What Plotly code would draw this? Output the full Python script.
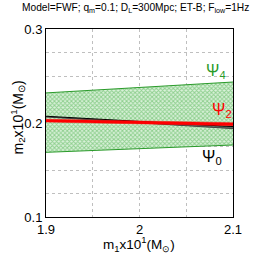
import plotly.graph_objects as go

x_vals = [1.9, 2.1]
psi4_upper = [0.232, 0.2436]
psi4_lower = [0.1688, 0.1766]
psi2_upper = [0.2040, 0.2003]
psi2_lower = [0.2010, 0.1972]
psi0_upper = [0.2072, 0.1962]
psi0_lower = [0.2064, 0.1940]

GREEN = "#2a9a2a"
fig = go.Figure()
# psi4 band
fig.add_trace(go.Scatter(x=x_vals, y=psi4_lower, mode="lines", line=dict(color=GREEN, width=1), showlegend=False))
fig.add_trace(go.Scatter(x=x_vals, y=psi4_upper, mode="lines", line=dict(color=GREEN, width=1), fill="tonexty",
                         fillcolor="#cdeccd",
                         fillpattern=dict(shape="x", size=3, solidity=0.55, fgcolor="#46ad46", bgcolor="#d9f1d9"),
                         showlegend=False))
# psi0 band
fig.add_trace(go.Scatter(x=x_vals, y=psi0_lower, mode="lines", line=dict(color="#444444", width=1), showlegend=False))
fig.add_trace(go.Scatter(x=x_vals, y=psi0_upper, mode="lines", line=dict(color="black", width=1), fill="tonexty",
                         fillcolor="rgba(60,60,60,0.7)", showlegend=False))
# psi2 band
fig.add_trace(go.Scatter(x=x_vals, y=psi2_lower, mode="lines", line=dict(color="red", width=0.5), showlegend=False))
fig.add_trace(go.Scatter(x=x_vals, y=psi2_upper, mode="lines", line=dict(color="red", width=0.5), fill="tonexty",
                         fillcolor="red", showlegend=False))

fig.add_annotation(x=2.082, y=0.255, text="Ψ<sub>4</sub>", showarrow=False, font=dict(color=GREEN, size=16))
fig.add_annotation(x=2.088, y=0.2130, text="Ψ<sub>2</sub>", showarrow=False, font=dict(color="red", size=16))
fig.add_annotation(x=2.078, y=0.163, text="Ψ<sub>0</sub>", showarrow=False, font=dict(color="black", size=16))

# axis titles
fig.add_annotation(xref="paper", yref="paper", x=0.497, y=0, yanchor="top", xanchor="center", yshift=-15,
                   text="m<sub>1</sub>x10<sup>1</sup>(M<sub>⊙</sub>)", showarrow=False, font=dict(size=13.5))
fig.add_annotation(xref="paper", yref="paper", x=-0.152, y=0.527, xanchor="center", yanchor="middle", textangle=-90,
                   text="m<sub>2</sub>x10<sup>1</sup>(M<sub>⊙</sub>)", showarrow=False, font=dict(size=14))
# title
fig.add_annotation(xref="paper", yref="paper", x=0.476, y=1.0, yanchor="middle", xanchor="center", yshift=21,
                   text="Model=FWF; q<sub>m</sub>=0.1; D<sub>L</sub>=300Mpc; ET-B; F<sub>low</sub>=1Hz",
                   showarrow=False, font=dict(size=10.2))

fig.update_layout(
    width=266, height=255,
    margin=dict(l=46, r=33, t=29, b=38),
    plot_bgcolor="white", paper_bgcolor="white",
    font=dict(family="Liberation Sans, Arial", size=12, color="black"),
)
fig.update_xaxes(range=[1.9, 2.1], tickvals=[1.9, 2.0, 2.1], ticktext=["1.9", "2", "2.1"],
                 showline=True, linecolor="black", linewidth=1, mirror=True,
                 showgrid=True, gridcolor="#bfbfbf", griddash="dot", gridwidth=1,
                 minor=dict(dtick=0.05, showgrid=True, gridcolor="#bfbfbf", griddash="dot"),
                 ticks="", zeroline=False, tickfont=dict(size=13))
fig.update_yaxes(range=[0.1, 0.3], tickvals=[0.1, 0.2, 0.3], ticktext=["0.1", "0.2", "0.3"],
                 showline=True, linecolor="black", linewidth=1, mirror=True,
                 showgrid=True, gridcolor="#bfbfbf", griddash="dot", gridwidth=1,
                 minor=dict(dtick=0.025, showgrid=True, gridcolor="#bfbfbf", griddash="dot"),
                 ticks="", zeroline=False, tickfont=dict(size=13))

fig.write_html("out.html", config={"displayModeBar": False},
               post_script="document.body.style.margin='0';")
